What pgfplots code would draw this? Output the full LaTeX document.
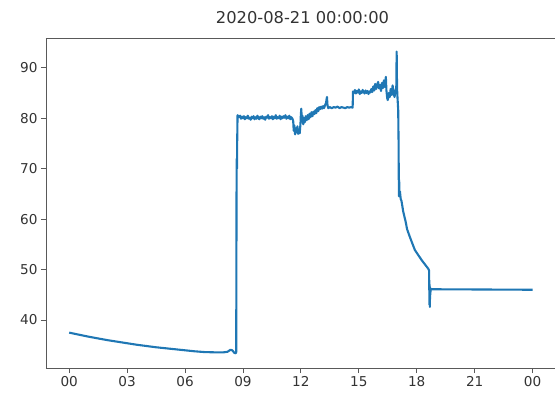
\documentclass[border=0pt]{standalone}
\usepackage{pgfplots}
\pgfplotsset{compat=1.18}
\usepackage{fontspec}
\setmainfont{DejaVu Sans}
\definecolor{mplblue}{RGB}{31,119,180}
\begin{document}
\begin{tikzpicture}
\useasboundingbox (-46pt,-24pt) rectangle (509pt,368pt);
\begin{axis}[
  at={(0pt,0pt)}, anchor=south west,
  scale only axis, width=509pt, height=330pt,
  xmin=-1.2, xmax=25.16, ymin=30.49, ymax=95.9,
  axis y line*=left,
  axis line style={black!65, line width=0.9pt},
  tick style={black!65, line width=0.9pt},
  tick align=outside, major tick length=5pt,
  xtick={0,3,6,9,12,15,18,21,24},
  xticklabels={00,03,06,09,12,15,18,21,00},
  ytick={40,50,60,70,80,90},
  yticklabels={40,50,60,70,80,90},
  xtick pos=lower,
  ticklabel style={font=\fontsize{13.6}{16}\selectfont, text=black!80},
  title={2020-08-21 00:00:00},
  title style={font=\fontsize{16.3}{19}\selectfont, text=black!80, anchor=base, at={(0.5,1)}, yshift=8pt, xshift=2pt},
]
\addplot[mplblue, line width=2.1pt, line join=round, no marks] coordinates {
(0,37.5) (0.5,37.1) (1,36.7) (1.5,36.35) (2,36.0) (2.5,35.7) (3,35.4) (3.5,35.1) (4,34.85) (4.5,34.6) (5,34.4) (5.5,34.2) (6,34.0) (6.5,33.8) (7,33.65) (7.5,33.6) (8.0,33.6) (8.2,33.7) (8.35,34.1) (8.45,34.0) (8.55,33.5) (8.62,33.4) (8.65,33.6)
(8.66,50) (8.67,69) (8.68,72) (8.69,70) (8.70,75) (8.72,80.6) (8.78,80.2)
(8.85,80.5) (8.9,79.9) (8.95,80.3) (9.0,80.0) (9.05,80.4) (9.1,79.8) (9.15,80.2) (9.2,80.0) (9.25,80.5) (9.3,79.9) (9.35,80.1) (9.4,79.7) (9.45,80.3) (9.5,80.0) (9.55,80.4) (9.6,79.8) (9.65,80.2) (9.7,79.9) (9.75,80.5) (9.8,80.0) (9.85,79.8) (9.9,80.3) (9.95,80.0) (10.0,80.4) (10.05,79.9) (10.1,80.2) (10.15,79.7) (10.2,80.3) (10.25,80.1) (10.3,80.6) (10.35,79.9) (10.4,80.2) (10.45,80.0) (10.5,80.4) (10.55,79.8) (10.6,80.3) (10.65,80.0) (10.7,80.6) (10.75,79.9) (10.8,80.2) (10.85,80.0) (10.9,80.5) (10.95,79.8) (11.0,80.3) (11.05,80.0) (11.1,80.4) (11.15,80.1) (11.2,80.6) (11.25,79.9) (11.3,80.3) (11.35,80.0) (11.4,80.5) (11.45,79.8) (11.5,80.2) (11.55,80.0) (11.6,79.5)
(11.63,77.5) (11.66,78.6) (11.7,76.8) (11.74,78.0) (11.78,77.2) (11.82,78.4) (11.86,76.9) (11.9,77.8) (11.94,77.0) (11.98,79.0) (12.0,80.8) (12.02,81.9) (12.05,79.5) (12.08,80.5) (12.12,78.8) (12.16,80.0) (12.2,79.2) (12.25,80.4) (12.3,79.6) (12.35,80.6) (12.4,79.8) (12.45,80.9) (12.5,80.2) (12.55,81.2) (12.6,80.4) (12.65,81.3) (12.7,80.8) (12.75,81.6) (12.8,81.0) (12.85,82.0) (12.9,81.4) (12.95,82.2) (13.0,81.8) (13.05,82.3) (13.1,81.9) (13.15,82.4) (13.2,82.0) (13.25,82.6) (13.3,83.0) (13.35,84.2) (13.38,82.5) (13.42,82.0)
(13.5,82.2) (13.6,82.0) (13.7,82.2) (13.8,82.1) (13.9,82.3) (14.0,82.0) (14.1,82.2) (14.2,82.1) (14.3,82.0) (14.4,82.2) (14.5,82.1) (14.6,82.2) (14.68,82.1)
(14.7,85.3) (14.75,85.0) (14.8,85.6) (14.85,84.9) (14.9,85.4) (14.95,85.1) (15.0,85.7) (15.05,84.8) (15.1,85.3) (15.15,85.0) (15.2,85.6) (15.25,85.2) (15.3,84.9) (15.35,85.5) (15.4,85.0) (15.45,85.4) (15.5,84.8) (15.55,85.3) (15.6,85.1) (15.65,85.8) (15.7,85.2) (15.75,86.3) (15.8,85.5) (15.85,86.8) (15.9,85.8) (15.95,86.5) (16.0,87.2) (16.05,85.9) (16.1,86.6) (16.15,85.4) (16.2,87.0) (16.25,86.0) (16.3,87.5) (16.35,86.2) (16.4,88.2) (16.43,85.5) (16.47,84.0) (16.5,83.6) (16.55,85.0) (16.6,84.2) (16.65,85.8) (16.7,84.6) (16.75,86.5) (16.8,85.0) (16.85,84.2) (16.9,85.5) (16.94,86.0) (16.96,93.2) (16.98,86.0) (17.0,84.3) (17.04,81.6)
(17.06,75) (17.07,68.0) (17.08,64.5) (17.09,67.8) (17.1,64.8) (17.13,65.5) (17.17,64.0) (17.21,63.6) (17.3,61.5) (17.38,60.2) (17.42,59.6) (17.5,58.0) (17.64,56.5) (17.9,53.9) (18.25,51.9) (18.59,50.2) (18.64,49.8)
(18.65,46) (18.66,43) (18.67,47) (18.68,42.6) (18.69,46.5) (18.7,45) (18.72,46.1) (24,46.0)
};
\end{axis}
\end{tikzpicture}
\end{document}
